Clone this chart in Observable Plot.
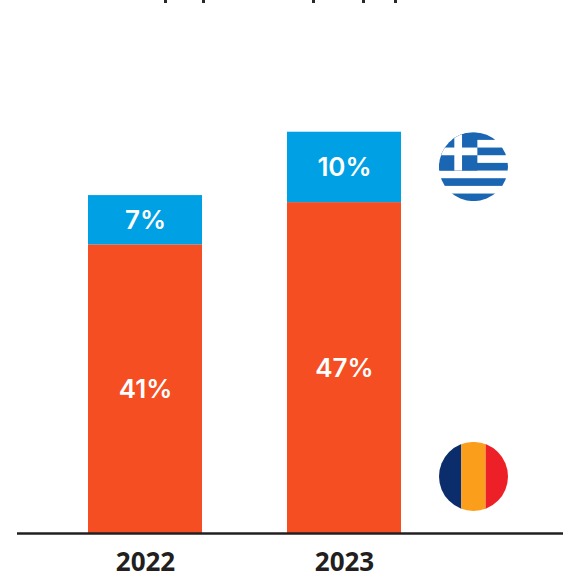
<!DOCTYPE html>
<html><head><meta charset="utf-8">
<script src="https://cdn.jsdelivr.net/npm/d3@7"></script>
<script src="https://cdn.jsdelivr.net/npm/@observablehq/plot@0.6"></script>
<style>
html,body{margin:0;padding:0;background:#fff;overflow:hidden}
#chart svg{display:block}
#chart{position:relative;width:563px;height:573px;overflow:hidden}
.speck{position:absolute;top:0;width:3px;height:3px;background:#2b2829}
</style></head><body><div id="chart"></div>
<script>
const years = ["2022","2023"];
const romania = [41,47];
const greece = [7,10];
const colors = {Romania:"#f44e22",Greece:"#00a0e4"};
const greeceFlagY = 52.1;
const romaniaFlagY = 8.1;
// the reference's title is cropped away by its top edge: only these specks remain
const titleSpecks = [164,202,312,362,394];

const rows = years.flatMap((year,i)=>[
  {year,country:"Romania",value:romania[i]},
  {year,country:"Greece",value:greece[i]}
]);

const greeceFlag = `<svg xmlns="http://www.w3.org/2000/svg" viewBox="0 0 68 68"><defs><clipPath id="c"><circle cx="34" cy="34" r="34"/></clipPath></defs><g clip-path="url(#c)"><rect width="68" height="68" fill="#fff"/>${[0,2,4,6,8].map(k=>`<rect y="${k*68/9}" width="68" height="${68/9}" fill="#1a66b3"/>`).join("")}<rect width="37.8" height="37.8" fill="#1a66b3"/><rect x="15.1" width="7.6" height="37.8" fill="#fff"/><rect y="15.1" width="37.8" height="7.6" fill="#fff"/></g></svg>`;
const romaniaFlag = `<svg xmlns="http://www.w3.org/2000/svg" viewBox="0 0 68 68"><defs><clipPath id="c"><circle cx="34" cy="34" r="34"/></clipPath></defs><g clip-path="url(#c)"><rect width="22" height="68" fill="#0b2d6b"/><rect x="22" width="24" height="68" fill="#fb9e1b"/><rect x="46" width="22" height="68" fill="#ee2027"/></g></svg>`;
const uri = s => "data:image/svg+xml;charset=utf-8," + encodeURIComponent(s);
const flags = [{src:uri(greeceFlag),y:greeceFlagY},{src:uri(romaniaFlag),y:romaniaFlagY}];

const plot = Plot.plot({
  width:563,height:573,
  marginLeft:17,marginRight:0,marginTop:5,marginBottom:40,
  style:{background:"#fff"},
  x:{domain:years,paddingInner:0.427,paddingOuter:0.585,align:0.305,label:null},
  y:{domain:[0,75],axis:null},
  color:{domain:Object.keys(colors),range:Object.values(colors)},
  marks:[
    Plot.barY(rows,Plot.stackY({x:"year",y:"value",fill:"country",order:Object.keys(colors)})),
    Plot.text(rows,Plot.stackY({x:"year",y:"value",z:"country",order:Object.keys(colors),text:d=>d.value+"%",fill:"#fff",fontFamily:"Inter",fontWeight:600,fontSize:26,dy:0.5})),
    Plot.ruleY([0],{stroke:"#231f20",strokeWidth:2.5}),
    Plot.axisX({fontFamily:"'Open Sans'",fontWeight:700,fontSize:26,tickSize:0,tickPadding:19,color:"#231f20",label:null}),
    Plot.image(flags,{src:"src",y:"y",frameAnchor:"left",dx:456,width:69,height:69})
  ]
});
const host = document.getElementById("chart");
host.append(plot);
titleSpecks.forEach(x=>{
  const s=document.createElement("div");
  s.className="speck"; s.style.left=x+"px";
  host.append(s);
});
</script></body></html>
